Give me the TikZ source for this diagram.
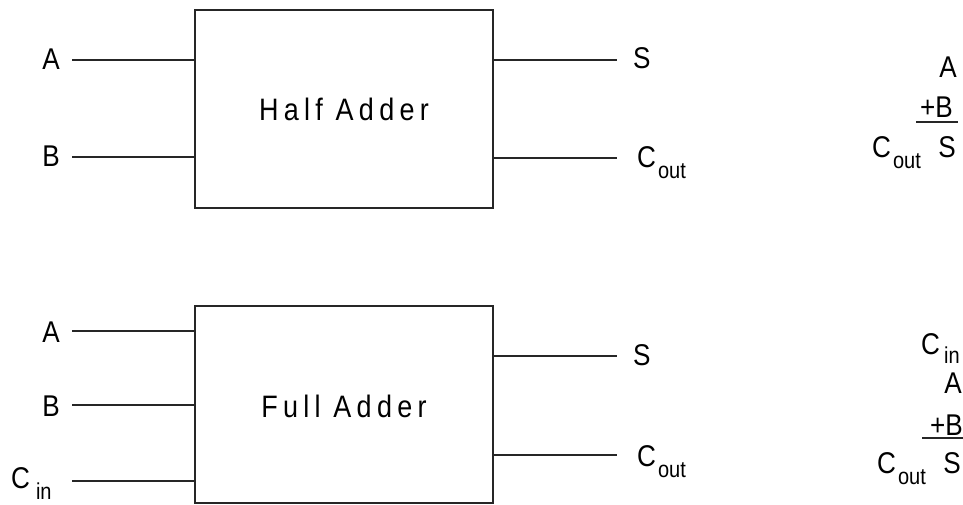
\documentclass[tikz,border=0pt]{standalone}
\usepackage{fontspec}
\setmainfont[FakeStretch=0.87]{Liberation Sans}
\newfontfamily\boxfont[FakeStretch=0.87,LetterSpace=17]{Liberation Sans}
% C with a lowered, smaller subscript set a little apart
\newcommand{\csub}[3][11pt]{C\kern#2\raisebox{-#1}{\fontsize{23}{23}\selectfont #3}}
\begin{document}
\begin{tikzpicture}[x=1pt,y=-1pt,
  wire/.style={line width=1.6pt, color=black!85},
  block/.style={line width=1.8pt, draw=black!85, fill=none},
  lbl/.style={inner sep=0pt, font=\fontsize{30}{30}\selectfont},
  blocklbl/.style={inner sep=0pt, font=\boxfont\fontsize{31}{31}\selectfont}]
\useasboundingbox (0,0) rectangle (963,504);

% ---------- half adder ----------
\draw[block] (195,10) rectangle (493,208);
\node[blocklbl, anchor=base] (hname) at (344,120) {Half Adder};
\coordinate (hA) at (195,60);
\coordinate (hB) at (195,157);
\coordinate (hS) at (493,60);
\coordinate (hC) at (493,158);
\coordinate (hAend) at (72,60);
\coordinate (hBend) at (72,157);
\coordinate (hSend) at (617,60);
\coordinate (hCend) at (617,158);
\draw[wire] (hAend) -- (hA);
\draw[wire] (hBend) -- (hB);
\draw[wire] (hS) -- (hSend);
\draw[wire] (hC) -- (hCend);
\node[lbl, anchor=base east] (hAl) at (60,69) {A};
\node[lbl, anchor=base east] (hBl) at (60,166) {B};
\node[lbl, anchor=base west] (hSl) at (633,68) {S};
\node[lbl, anchor=base west] (hCl) at (637,167) {\csub{2pt}{out}};

% ---------- full adder ----------
\draw[block] (195,306) rectangle (493,503);
\node[blocklbl, anchor=base] (fname) at (344,417) {Full Adder};
\coordinate (fA) at (195,331);
\coordinate (fB) at (195,405);
\coordinate (fCi) at (195,481);
\coordinate (fS) at (493,356);
\coordinate (fC) at (493,455);
\coordinate (fAend) at (72,331);
\coordinate (fBend) at (72,405);
\coordinate (fCiend) at (72,481);
\coordinate (fSend) at (617,356);
\coordinate (fCend) at (617,455);
\draw[wire] (fAend) -- (fA);
\draw[wire] (fBend) -- (fB);
\draw[wire] (fCiend) -- (fCi);
\draw[wire] (fS) -- (fSend);
\draw[wire] (fC) -- (fCend);
\node[lbl, anchor=base east] (fAl) at (60,342) {A};
\node[lbl, anchor=base east] (fBl) at (60,416) {B};
\node[lbl, anchor=base west] (fCil) at (11,488) {\csub{6pt}{in}};
\node[lbl, anchor=base west] (fSl) at (633,365) {S};
\node[lbl, anchor=base west] (fCl) at (637,466) {\csub{2pt}{out}};

% ---------- half adder sum ----------
\node[lbl, anchor=base east] (sA) at (957,77) {A};
\node[lbl, anchor=base east] (sB) at (953,117) {+B};
\draw[wire] (916,122) -- (958,122);
\node[lbl, anchor=base east] (sS) at (956,157) {S};
\node[lbl, anchor=base west] (sC) at (872,157) {\csub{2pt}{out}};

% ---------- full adder sum ----------
\node[lbl, anchor=base west] (tCi) at (921,354) {\csub[9pt]{4pt}{in}};
\node[lbl, anchor=base east] (tA) at (962,393) {A};
\node[lbl, anchor=base east] (tB) at (963,435) {+B};
\draw[wire] (922,438) -- (963,438);
\node[lbl, anchor=base east] (tS) at (961,473) {S};
\node[lbl, anchor=base west] (tC) at (877,473) {\csub{2pt}{out}};
\end{tikzpicture}
\end{document}
